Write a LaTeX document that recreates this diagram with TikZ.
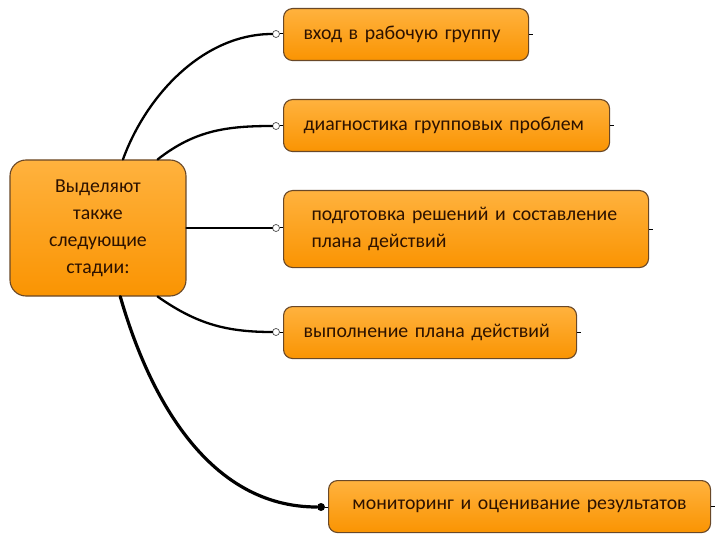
\documentclass[tikz,border=0pt]{standalone}
\usepackage{fontspec}
\setmainfont{Carlito}
\usetikzlibrary{positioning}
\definecolor{boxtop}{RGB}{255,178,62}
\definecolor{boxbot}{RGB}{250,148,2}
\definecolor{boxline}{RGB}{105,72,40}
\definecolor{boxtext}{RGB}{45,18,0}
\tikzset{
	stagebox/.style={
		rectangle, rounded corners=9pt, draw=boxline, line width=1.1pt,
		top color=boxtop, bottom color=boxbot, text=boxtext,
		font=\fontsize{19.8}{27}\selectfont, inner xsep=20pt, inner ysep=0pt,
		anchor=north west, align=left
	},
	link/.style={line width=2.3pt, line cap=round},
	stub/.style={line width=1pt},
	opendot/.style={circle, draw=black!70, fill=white, line width=0.7pt, inner sep=0pt, minimum size=7pt},
	fulldot/.style={circle, fill=black, inner sep=0pt, minimum size=8pt}
}
\begin{document}
\begin{tikzpicture}[x=1pt, y=-1pt]
\useasboundingbox (0,0) rectangle (720,540);

\node[stagebox, rounded corners=16pt, anchor=center, align=center, text width=150pt,
	minimum width=176pt, minimum height=136pt, inner xsep=13pt] (stages) at (98,228)
	{Выделяют\\также\\следующие\\стадии:};

\node[stagebox, text width=205pt, minimum height=52pt] (entry) at (283,8) {вход в рабочую группу};
\node[stagebox, text width=286pt, minimum height=52pt] (diagnosis) at (283,99) {диагностика групповых проблем};
\node[stagebox, text width=309pt, minimum height=77pt, inner xsep=28pt] (planning) at (283,190)
	{подготовка решений и составление\\плана действий};
\node[stagebox, text width=253pt, minimum height=52pt] (action) at (283,306) {выполнение плана действий};
\node[stagebox, text width=342pt, minimum height=52pt, align=center] (monitoring) at (328,480)
	{мониторинг и оценивание результатов};

% end points of the branches
\node[opendot] (d1) at (276,34) {};
\node[opendot] (d2) at (276,126) {};
\node[opendot] (d3) at (276,228) {};
\node[opendot] (d4) at (276,332) {};
\node[fulldot] (d5) at (321,507) {};

\draw[link] (stages.70) to[out=70, in=180, looseness=0.9] (d1);
\draw[link] (stages.49) to[out=38, in=180] (d2);
\draw[link] (stages.east |- d3) -- (d3);
\draw[link] (stages.-49) to[out=-35, in=180] (d4);
\draw[link, line width=3.2pt] (stages.-72) to[out=-74, in=180, looseness=0.95] (d5);

\draw[stub] (d1) -- (entry.west |- d1);
\draw[stub] (d2) -- (diagnosis.west |- d2);
\draw[stub] (d3) -- (planning.west |- d3);
\draw[stub] (d4) -- (action.west |- d4);
\draw[stub] (d5) -- (monitoring.west |- d5);

\foreach \b in {entry, diagnosis, planning, action, monitoring}
	\draw[stub] (\b.east) -- ++(4,0);
\end{tikzpicture}
\end{document}
